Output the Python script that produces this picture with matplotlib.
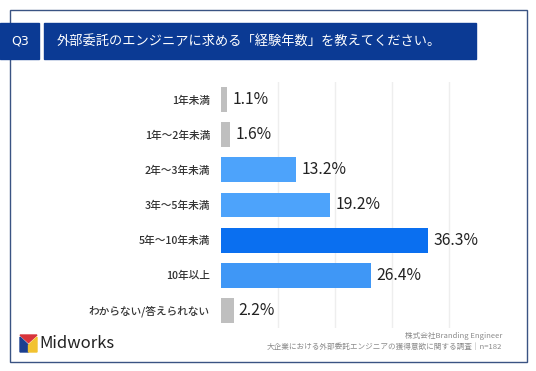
import matplotlib
matplotlib.use("Agg")
import matplotlib.pyplot as plt
from matplotlib.patches import Rectangle, Polygon

plt.rcParams['font.family'] = ['Noto Sans CJK JP', 'DejaVu Sans']

categories = ["1年未満", "1年～2年未満", "2年～3年未満", "3年～5年未満",
              "5年～10年未満", "10年以上", "わからない/答えられない"]
values = [1.1, 1.6, 13.2, 19.2, 36.3, 26.4, 2.2]
colors = ["#bfbfbf", "#bfbfbf", "#4da3fb", "#4da3fb", "#0a6ff0", "#3f97f6", "#bfbfbf"]
xticks = [10, 20, 30, 40]
title = "外部委託のエンジニアに求める「経験年数」を教えてください。"
qlabel = "Q3"
source1 = "株式会社Branding Engineer"
source2 = "大企業における外部委託エンジニアの獲得意欲に関する調査｜n=182"

W, H = 536, 371
fig = plt.figure(figsize=(W/100, H/100), dpi=100)
fig.patch.set_facecolor("white")

def fx(px): return px / W
def fy(py): return 1 - py / H

# outer frame
fig.patches.append(Rectangle((fx(10), fy(362)), fx(527) - fx(10), fy(10) - fy(362),
                             transform=fig.transFigure, fill=False,
                             edgecolor="#3a5383", linewidth=1.0))
# header boxes
navy = "#0b3a94"
fig.patches.append(Rectangle((fx(0), fy(59)), fx(39), fy(23) - fy(59),
                             transform=fig.transFigure, color=navy))
fig.patches.append(Rectangle((fx(44), fy(59)), fx(476) - fx(44), fy(23) - fy(59),
                             transform=fig.transFigure, color=navy))
fig.text(fx(20), fy(41), qlabel, color="white", fontsize=9, ha="center", va="center",
         family=["DejaVu Sans"])
fig.text(fx(57), fy(41), title, color="white", fontsize=9.5, ha="left", va="center")

# chart axes
x0, x1 = 221, 477.5
y0, y1 = 82, 328
ax = fig.add_axes([fx(x0), fy(y1), fx(x1) - fx(x0), fy(y0) - fy(y1)])
ypos = list(range(len(categories)))
ax.barh(ypos, values, color=colors, height=0.71, zorder=3)
ax.set_ylim(len(categories) - 0.5, -0.5)
ax.set_xlim(0, 45)
ax.set_xticks(xticks)
ax.grid(axis="x", color="#eeeeee", linewidth=1.0, zorder=0)
ax.tick_params(axis="x", length=0, labelbottom=False)
ax.tick_params(axis="y", length=0, pad=8)
ax.set_yticks(ypos)
ax.set_yticklabels(categories, fontsize=7.7, color="#333333", fontweight="medium")
for s in ax.spines.values():
    s.set_visible(False)
for y, v in zip(ypos, values):
    ax.text(v + 0.9, y, f"{v:.1f}%", va="center", ha="left", fontsize=11.3,
            color="#222222", family=["Noto Sans CJK JP"])

# footer
fig.text(fx(502), fy(336), source1, color="#8a8a8a", fontsize=5.5, ha="right", va="center")
fig.text(fx(502), fy(347), source2, color="#8a8a8a", fontsize=5.5, ha="right", va="center")

# Midworks logo
lx, ly, s = 20, 335, 17
fig.patches.append(Polygon([(fx(lx), fy(ly)), (fx(lx + s), fy(ly)), (fx(lx + s/2), fy(ly + s*0.45))],
                           closed=True, transform=fig.transFigure, color="#d8343b"))
fig.patches.append(Polygon([(fx(lx), fy(ly + s*0.12)), (fx(lx + s*0.5), fy(ly + s*0.6)),
                            (fx(lx + s*0.5), fy(ly + s)), (fx(lx), fy(ly + s))],
                           closed=True, transform=fig.transFigure, color="#1c3f8f"))
fig.patches.append(Polygon([(fx(lx + s), fy(ly + s*0.12)), (fx(lx + s*0.5), fy(ly + s*0.6)),
                            (fx(lx + s*0.5), fy(ly + s)), (fx(lx + s), fy(ly + s))],
                           closed=True, transform=fig.transFigure, color="#f2c230"))
fig.text(fx(39), fy(344), "Midworks", color="#222222", fontsize=12, ha="left", va="center",
         family=["Noto Sans CJK JP"])

fig.savefig("out.png", dpi=100, facecolor="white")
